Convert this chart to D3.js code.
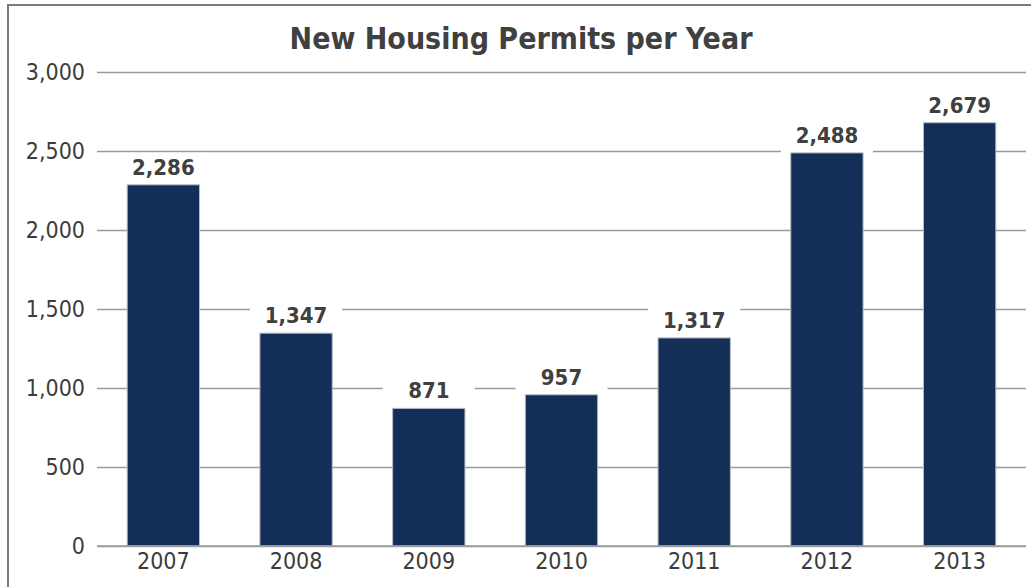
<!DOCTYPE html>
<html>
<head>
<meta charset="utf-8">
<script src="https://cdn.jsdelivr.net/npm/d3@7"></script>
<style>
  html, body { margin: 0; background: #fff; overflow: hidden; }
  svg { display: block; }
  svg text { font-family: "DejaVu Sans Condensed", "DejaVu Sans", sans-serif; font-stretch: condensed; }
</style>
</head>
<body>
<script>
var years = ["2007", "2008", "2009", "2010", "2011", "2012", "2013"];
var permits = [2286, 1347, 871, 957, 1317, 2488, 2679];
var yTicks = [0, 500, 1000, 1500, 2000, 2500, 3000];
var title = "New Housing Permits per Year";

var w = 1031, h = 587;
var fmt = d3.format(",");

var svg = d3.select("body").append("svg")
    .attr("width", w)
    .attr("height", h);

// outer frame (runs off the right/bottom of the picture)
svg.append("rect")
    .attr("x", 8).attr("y", 5)
    .attr("width", 1040).attr("height", 600)
    .attr("fill", "none")
    .attr("stroke", "#7a7a7a")
    .attr("stroke-width", 2);

svg.append("text")
    .attr("x", 521).attr("y", 49)
    .attr("text-anchor", "middle")
    .attr("font-size", 30)
    .attr("font-weight", "bold")
    .attr("fill", "#404040")
    .text(title);

var x = d3.scaleBand()
    .domain(years)
    .range([97, 1026])
    .paddingInner(0.455)
    .paddingOuter(0.2275);

var y = d3.scaleLinear()
    .domain([0, 3000])
    .range([546, 72]);

// gridlines + y labels
var yAxis = svg.append("g")
    .attr("transform", "translate(97,0)")
    .call(d3.axisLeft(y).tickValues(yTicks).tickFormat(fmt).tickSize(-929).tickPadding(12));
yAxis.select(".domain").remove();
yAxis.selectAll("line").attr("stroke", "#9a9a9a").attr("stroke-width", 1.5);
yAxis.selectAll("text")
    .attr("font-size", 23)
    .attr("fill", "#3c3c3c")
    .attr("font-family", null);

// x labels
var xAxis = svg.append("g")
    .attr("transform", "translate(0,546)")
    .call(d3.axisBottom(x).tickSize(0).tickPadding(7));
xAxis.select(".domain").remove();
xAxis.selectAll("text")
    .attr("font-size", 23)
    .attr("fill", "#3c3c3c")
    .attr("font-family", null);

// value labels with white boxes that break the gridlines
var labels = svg.append("g").selectAll("g")
    .data(permits)
    .enter()
    .append("g")
    .attr("transform", function(d, i) {
        return "translate(" + (x(years[i]) + x.bandwidth() / 2) + "," + (y(d) - 10) + ")";
    });
labels.append("rect")
    .attr("x", -46).attr("y", -22)
    .attr("width", 92).attr("height", 34)
    .attr("fill", "#fff");
labels.append("text")
    .attr("text-anchor", "middle")
    .attr("font-size", 22)
    .attr("font-weight", "bold")
    .attr("fill", "#404040")
    .text(function(d) { return fmt(d); });

// bars
svg.append("g").selectAll("rect")
    .data(permits)
    .enter()
    .append("rect")
    .attr("x", function(d, i) { return x(years[i]); })
    .attr("y", function(d) { return y(d); })
    .attr("width", x.bandwidth())
    .attr("height", function(d) { return y(0) - y(d); })
    .attr("fill", "#142f57")
    .attr("stroke", "#b5bcc6")
    .attr("stroke-width", 1);

// zero line on top
svg.append("line")
    .attr("x1", 97).attr("x2", 1026)
    .attr("y1", y(0)).attr("y2", y(0))
    .attr("stroke", "#9a9a9a")
    .attr("stroke-width", 1.5);
</script>
</body>
</html>
